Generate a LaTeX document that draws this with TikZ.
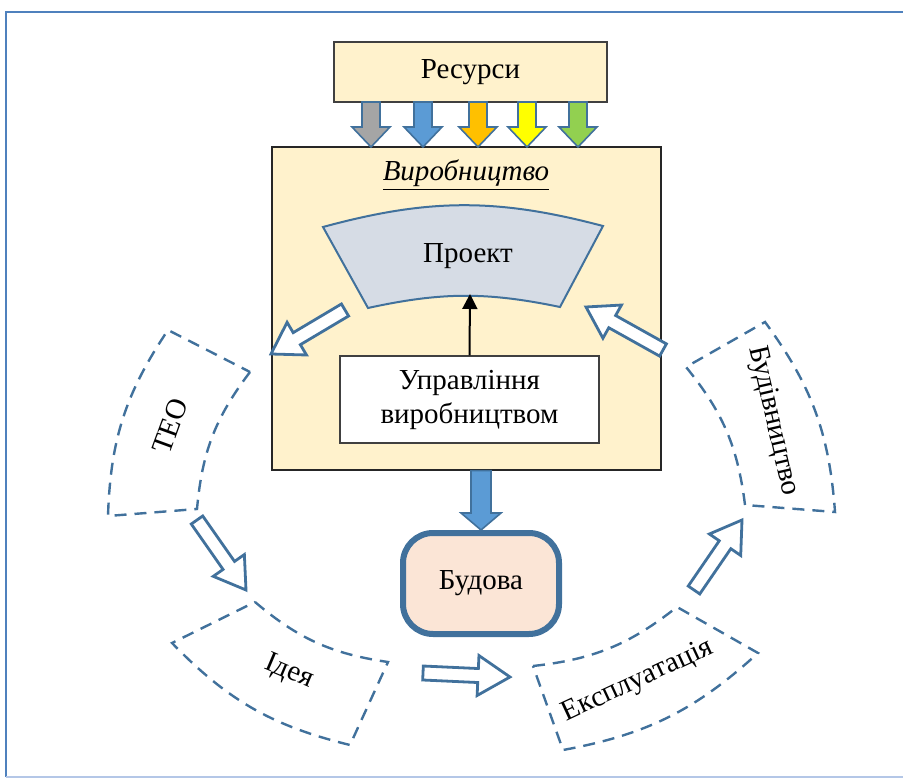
\documentclass[tikz,border=0pt]{standalone}
\usepackage{fontspec}
\setmainfont{Liberation Serif}
\usetikzlibrary{calc,arrows.meta}

\definecolor{framecol}{HTML}{4F81BD}
\definecolor{framelight}{HTML}{B4C7E7}
\definecolor{linecol}{HTML}{41719C}
\definecolor{boxfill}{HTML}{FFF2CC}
\definecolor{projfill}{HTML}{D6DCE5}
\definecolor{budfill}{HTML}{FBE5D6}
\definecolor{arrgray}{HTML}{A5A5A5}
\definecolor{arrblue}{HTML}{5B9BD5}
\definecolor{arrorange}{HTML}{FFC000}
\definecolor{arryellow}{HTML}{FFFF00}
\definecolor{arrgreen}{HTML}{92D050}

% block arrow: style, tail, tip, half shaft, half head, head length
\newcommand{\drawblockarrow}[6]
{
  \coordinate (ba-t) at #2;
  \coordinate (ba-h) at #3;
  \coordinate (ba-b) at ($(ba-h)!#6!(ba-t)$);
  \draw [#1] ($(ba-t)!#4!90:(ba-h)$) -- ($(ba-b)!#4!90:(ba-h)$)
    -- ($(ba-b)!#5!90:(ba-h)$) -- (ba-h) -- ($(ba-b)!#5!-90:(ba-h)$)
    -- ($(ba-b)!#4!-90:(ba-h)$) -- ($(ba-t)!#4!-90:(ba-h)$) -- cycle;
}
% ring segment: inner start, inner end, outer end, outer start
\newcommand{\drawsegment}[4]
{
  \draw [segline] #1 to[bend right=16] #2 -- #3 to[bend left=16] #4 -- cycle;
}

\begin{document}
\begin{tikzpicture}[x=0.5pt, y=-0.5pt, font=\fontsize{14.5}{17}\selectfont,
    resbox/.style={draw=black!75, line width=0.7pt, fill=boxfill,
      minimum width=136.5pt, minimum height=30pt},
    prodbox/.style={draw=black!85, line width=0.7pt, fill=boxfill,
      minimum width=194.5pt, minimum height=161.5pt},
    ctrlbox/.style={draw=black!75, line width=0.7pt, fill=white, align=center,
      minimum width=129.5pt, minimum height=43.5pt},
    buildbox/.style={draw=linecol, line width=3pt, fill=budfill,
      rounded corners=15pt, minimum width=78pt, minimum height=50.5pt},
    segline/.style={draw=linecol, line width=1.2pt, dash pattern=on 6pt off 4pt},
    projshape/.style={draw=linecol, line width=1pt, fill=projfill},
    hollowarrow/.style={draw=linecol, line width=1.4pt, fill=white},
    feedarrow/.style={draw=linecol, line width=0.8pt, fill=#1},
    ctrlarrow/.style={-{Triangle[length=7.5pt,width=7.5pt]}, line width=1pt}]

  \useasboundingbox (0,0) rectangle (903,779);
  \draw [framecol, line width=1pt] (6,777) -- (6,12) -- (903,12);
  \draw [framelight, line width=1pt] (6,777) -- (903,777);

  \node [resbox] (res) at (470.5,72) {Ресурси};
  \node [prodbox] (vyr) at (466.5,308.5) {};
  \node (vyrtitle) at (466,175) {\textit{\underline{Виробництво}}};

  % resources flowing into production
  \foreach \xx/\col in {371/arrgray,423/arrblue,478/arrorange,527/arryellow,578/arrgreen}
  {
    \drawblockarrow{feedarrow=\col}{(\xx,102)}{(\xx,147)}{4.5pt}{9.5pt}{10pt}
  }

  \draw [projshape] (560,307) to[bend right=12] (368,308) -- (323,227)
    to[bend left=15] (603,226) -- cycle;
  \node (proj) at (468,256) {Проект};
  \coordinate (projbot) at (470,294);

  \node [ctrlbox] (upr) at (469.5,399.5) {Управління\\виробництвом};
  \draw [ctrlarrow] (upr.north) -- (projbot);

  \node [buildbox] (bud) at (481,583.5) {Будова};
  \drawblockarrow{feedarrow=arrblue}{(vyr.south -| bud.north)}{(bud.north)}{5pt}{10pt}{8.5pt}

  % life cycle segments
  \drawsegment{(250,372)}{(197,509)}{(108,516)}{(168,330)}
  \node [rotate=70] (teo) at (170,426) {ТЕО};
  \drawsegment{(255,602)}{(388,662)}{(350,745)}{(172,643)}
  \node [rotate=-23] (ideya) at (289,672) {Ідея};
  \drawsegment{(533,666)}{(677,607)}{(758,653)}{(563,750)}
  \node [rotate=25] (ekspl) at (638,681) {Експлуатація};
  \drawsegment{(745,505)}{(686,367)}{(765,322)}{(835,512)}
  \node [rotate=-77] (budivn) at (773,421) {Будівництво};

  \coordinate (projout) at (345,310);
  \coordinate (teoin) at (271,354);
  \coordinate (teoout) at (197,520);
  \coordinate (ideyain) at (246,590);
  \coordinate (ideyaout) at (423,673);
  \coordinate (eksplin) at (510,677);
  \coordinate (eksplout) at (694,590);
  \coordinate (budivnin) at (742,520);
  \coordinate (budivnout) at (663,350);
  \coordinate (projin) at (586,307);

  \drawblockarrow{hollowarrow}{(projout)}{(teoin)}{3.5pt}{9.5pt}{15pt}
  \drawblockarrow{hollowarrow}{(teoout)}{(ideyain)}{3.5pt}{9.5pt}{15pt}
  \drawblockarrow{hollowarrow}{(ideyaout)}{(eksplin)}{3.5pt}{10pt}{16pt}
  \drawblockarrow{hollowarrow}{(eksplout)}{(budivnin)}{3.5pt}{9.5pt}{15pt}
  \drawblockarrow{hollowarrow}{(budivnout)}{(projin)}{3.5pt}{9.5pt}{15pt}
\end{tikzpicture}
\end{document}
